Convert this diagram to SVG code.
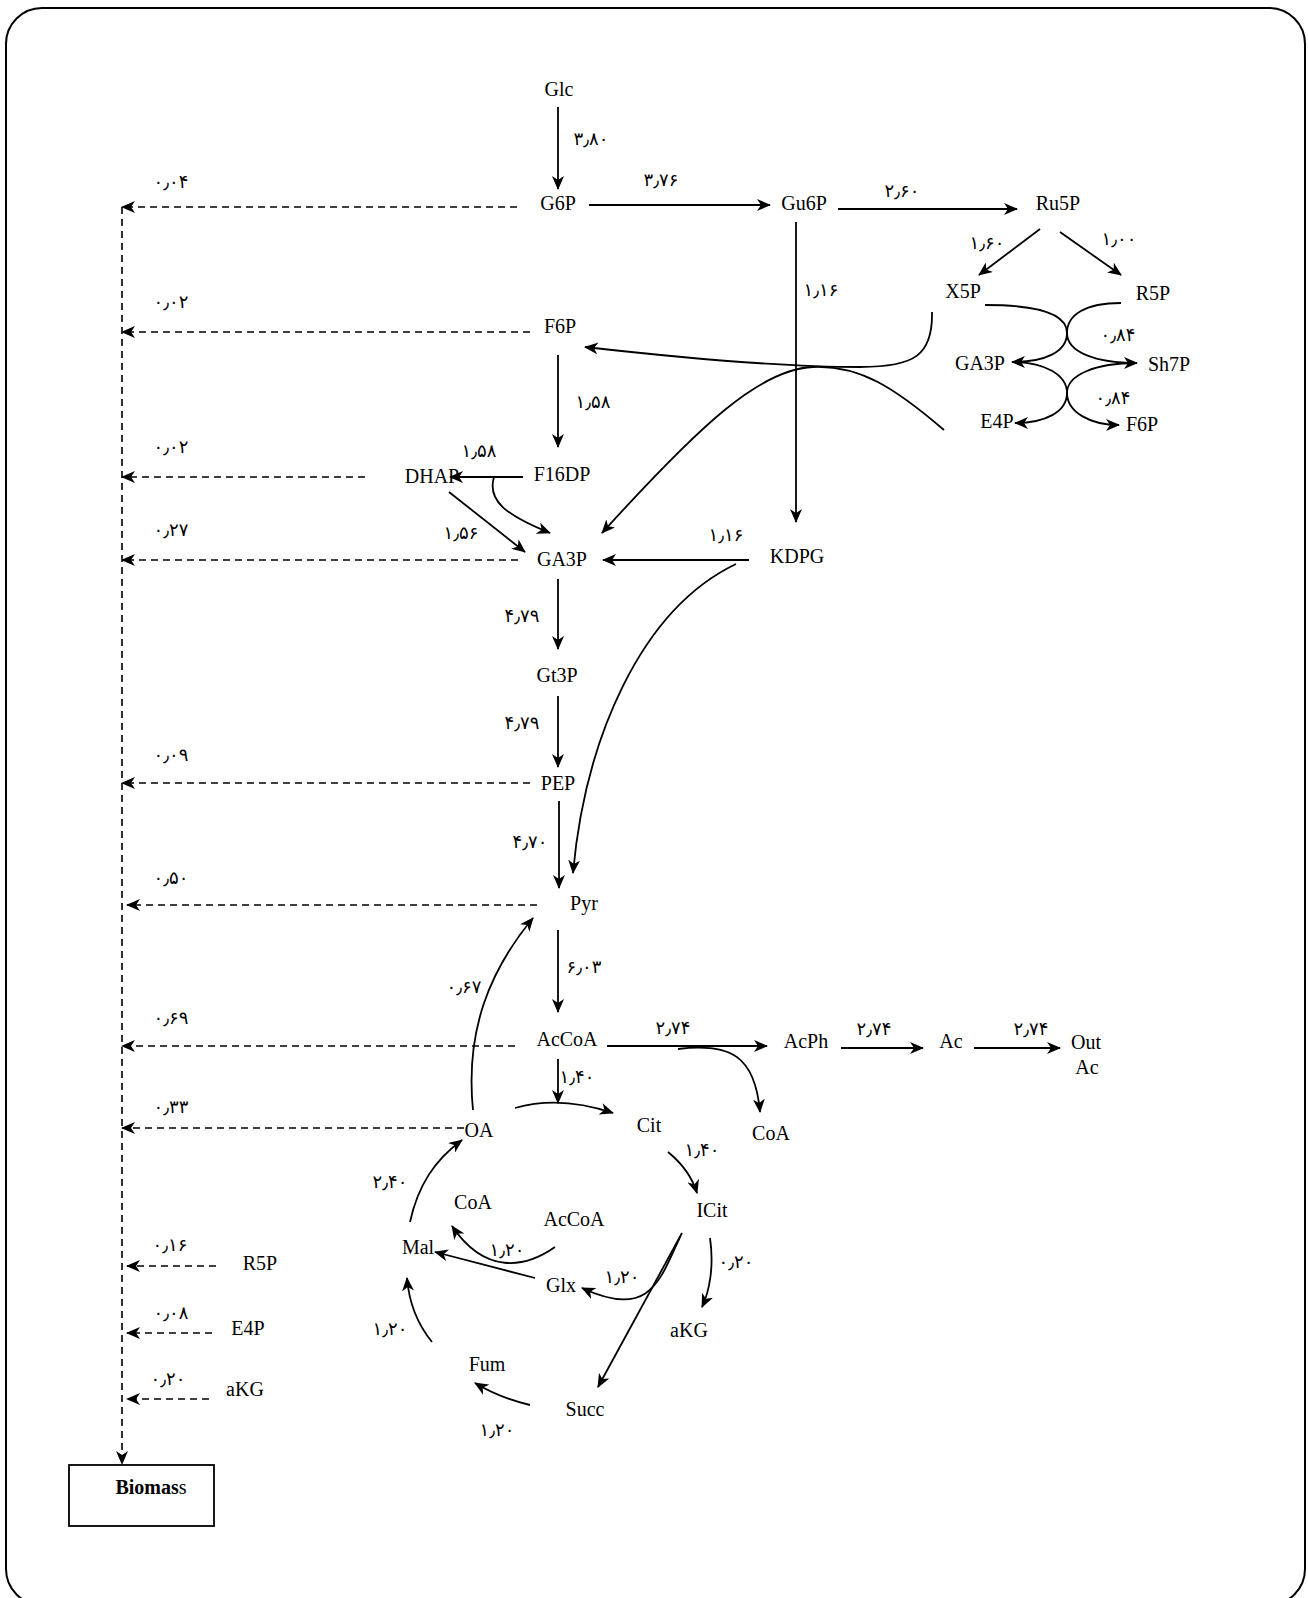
<svg xmlns="http://www.w3.org/2000/svg" width="1308" height="1598" viewBox="0 0 1308 1598">
<defs>
<marker id="ah" markerUnits="userSpaceOnUse" markerWidth="14" markerHeight="12" refX="13" refY="6" orient="auto" viewBox="0 0 14 12"><path d="M0,0 L14,6 L0,12 L4,6 z" fill="#000"/></marker>
</defs>
<style>
.n{font-family:"Liberation Serif","Times New Roman",serif;font-size:20px;fill:#000;text-anchor:middle}
.v{font-family:"DejaVu Sans",sans-serif;font-size:18px;fill:#000;text-anchor:middle}
.s{fill:none;stroke:#000;stroke-width:1.8;marker-end:url(#ah)}
.d{fill:none;stroke:#000;stroke-width:1.6;stroke-dasharray:7 5;marker-end:url(#ah)}
</style>
<rect x="6" y="8" width="1299" height="1597" rx="36" fill="#fff" stroke="#000" stroke-width="2"/>

<g id="connectors">
<path class="d" d="M122,207 L122,1464"/>
<path class="d" d="M517,207 L122,207"/>
<path class="d" d="M530,332 L122,332"/>
<path class="d" d="M365,477 L122,477"/>
<path class="d" d="M518,560 L122,560"/>
<path class="d" d="M530,783 L122,783"/>
<path class="d" d="M537,905 L127,905"/>
<path class="d" d="M515,1046 L122,1046"/>
<path class="d" d="M464,1128 L122,1128"/>
<path class="d" d="M216,1266 L127,1266"/>
<path class="d" d="M212,1333 L127,1333"/>
<path class="d" d="M209,1399 L127,1399"/>
<path class="s" d="M558,107 L558,189"/>
<path class="s" d="M589,205 L770,205"/>
<path class="s" d="M838,209 L1017,209"/>
<path class="s" d="M1040,229 L979,275"/>
<path class="s" d="M1060,232 L1121,275"/>
<path class="s" d="M796,222 L796,522"/>
<path class="s" d="M558,355 L558,447"/>
<path class="s" d="M523,477 L450,477"/>
<path class="s" d="M494,477 C487,500 505,515 550,533"/>
<path class="s" d="M449,492 L525,552"/>
<path class="s" d="M749,560 L603,560"/>
<path class="s" d="M932,312 C933,355 915,367 860,367 C800,367 700,360 585,347"/>
<path class="s" d="M944,430 C895,388 860,365 813,367 C760,369 700,425 602,533"/>
<path class="s" d="M736,564 C640,610 585,740 573,873"/>
<path class="s" d="M558,579 L558,649"/>
<path class="s" d="M558,696 L558,767"/>
<path class="s" d="M559,801 L559,888"/>
<path class="s" d="M558,930 L558,1012"/>
<path class="s" d="M473,1110 C465,1030 490,970 533,918"/>
<path class="s" d="M607,1046 L767,1046"/>
<path class="s" d="M678,1049 C730,1043 755,1055 760,1112"/>
<path class="s" d="M841,1048 L923,1048"/>
<path class="s" d="M974,1048 L1060,1048"/>
<path class="s" d="M985,305 C1040,305 1067,315 1067,333 C1067,352 1095,363 1137,363"/>
<path class="s" d="M1121,303 C1085,303 1067,315 1067,333 C1067,352 1045,362 1012,362"/>
<path class="s" d="M1012,362 C1045,362 1067,375 1067,393 C1067,412 1090,425 1119,425"/>
<path class="s" d="M1137,363 C1095,363 1067,375 1067,393 C1067,412 1045,423 1015,423"/>
<path class="s" d="M558,1059 L558,1103"/>
<path class="s" d="M515,1108 Q560,1095 613,1113"/>
<path class="s" d="M668,1152 Q690,1170 697,1193"/>
<path class="s" d="M710,1238 C714,1265 710,1290 702,1307"/>
<path class="s" d="M682,1233 L598,1387"/>
<path class="s" d="M680,1237 C660,1280 650,1320 582,1288"/>
<path class="s" d="M535,1278 L435,1252"/>
<path class="s" d="M555,1247 C525,1268 485,1275 452,1226"/>
<path class="s" d="M410,1222 C418,1185 435,1160 462,1140"/>
<path class="s" d="M432,1342 Q410,1315 407,1278"/>
<path class="s" d="M530,1405 Q500,1398 475,1383"/>
</g>

<g id="labels">
<text class="v" x="591" y="145">۳٫۸۰</text>
<text class="v" x="661" y="186">۳٫۷۶</text>
<text class="v" x="902" y="197">۲٫۶۰</text>
<text class="v" x="987" y="249">۱٫۶۰</text>
<text class="v" x="1119" y="245">۱٫۰۰</text>
<text class="v" x="821" y="296">۱٫۱۶</text>
<text class="v" x="1118" y="341">۰٫۸۴</text>
<text class="v" x="1113" y="404">۰٫۸۴</text>
<text class="v" x="171" y="188">۰٫۰۴</text>
<text class="v" x="171" y="308">۰٫۰۲</text>
<text class="v" x="593" y="408">۱٫۵۸</text>
<text class="v" x="171" y="453">۰٫۰۲</text>
<text class="v" x="479" y="457">۱٫۵۸</text>
<text class="v" x="461" y="539">۱٫۵۶</text>
<text class="v" x="171" y="536">۰٫۲۷</text>
<text class="v" x="726" y="541">۱٫۱۶</text>
<text class="v" x="522" y="622">۴٫۷۹</text>
<text class="v" x="522" y="729">۴٫۷۹</text>
<text class="v" x="171" y="761">۰٫۰۹</text>
<text class="v" x="530" y="848">۴٫۷۰</text>
<text class="v" x="171" y="884">۰٫۵۰</text>
<text class="v" x="584" y="973">۶٫۰۳</text>
<text class="v" x="464" y="993">۰٫۶۷</text>
<text class="v" x="171" y="1024">۰٫۶۹</text>
<text class="v" x="673" y="1034">۲٫۷۴</text>
<text class="v" x="874" y="1035">۲٫۷۴</text>
<text class="v" x="1031" y="1035">۲٫۷۴</text>
<text class="v" x="577" y="1083">۱٫۴۰</text>
<text class="v" x="171" y="1113">۰٫۳۳</text>
<text class="v" x="702" y="1156">۱٫۴۰</text>
<text class="v" x="390" y="1188">۲٫۴۰</text>
<text class="v" x="507" y="1256">۱٫۲۰</text>
<text class="v" x="170" y="1251">۰٫۱۶</text>
<text class="v" x="622" y="1283">۱٫۲۰</text>
<text class="v" x="736" y="1268">۰٫۲۰</text>
<text class="v" x="171" y="1319">۰٫۰۸</text>
<text class="v" x="390" y="1335">۱٫۲۰</text>
<text class="v" x="168" y="1385">۰٫۲۰</text>
<text class="v" x="497" y="1436">۱٫۲۰</text>
</g>

<g id="n-glc"><text class="n" x="559" y="96">Glc</text></g>
<g id="n-g6p"><text class="n" x="558" y="210">G6P</text></g>
<g id="n-gu6p"><text class="n" x="804" y="210">Gu6P</text></g>
<g id="n-ru5p"><text class="n" x="1058" y="210">Ru5P</text></g>
<g id="n-x5p"><text class="n" x="963" y="298">X5P</text></g>
<g id="n-r5p"><text class="n" x="1153" y="300">R5P</text></g>
<g id="n-f6p"><text class="n" x="560" y="333">F6P</text></g>
<g id="n-ga3p-ppp"><text class="n" x="980" y="370">GA3P</text></g>
<g id="n-sh7p"><text class="n" x="1169" y="371">Sh7P</text></g>
<g id="n-e4p-ppp"><text class="n" x="997" y="428">E4P</text></g>
<g id="n-f6p-ppp"><text class="n" x="1142" y="431">F6P</text></g>
<g id="n-f16dp"><text class="n" x="562" y="481">F16DP</text></g>
<g id="n-dhap"><text class="n" x="432" y="483">DHAP</text></g>
<g id="n-ga3p"><text class="n" x="562" y="566">GA3P</text></g>
<g id="n-kdpg"><text class="n" x="797" y="563">KDPG</text></g>
<g id="n-gt3p"><text class="n" x="557" y="682">Gt3P</text></g>
<g id="n-pep"><text class="n" x="558" y="790">PEP</text></g>
<g id="n-pyr"><text class="n" x="584" y="910">Pyr</text></g>
<g id="n-accoa"><text class="n" x="567" y="1046">AcCoA</text></g>
<g id="n-acph"><text class="n" x="806" y="1048">AcPh</text></g>
<g id="n-ac"><text class="n" x="951" y="1048">Ac</text></g>
<g id="n-outac"><text class="n" x="1086" y="1049">Out</text><text class="n" x="1087" y="1074">Ac</text></g>
<g id="n-cit"><text class="n" x="649" y="1132">Cit</text></g>
<g id="n-coa"><text class="n" x="771" y="1140">CoA</text></g>
<g id="n-oa"><text class="n" x="479" y="1137">OA</text></g>
<g id="n-icit"><text class="n" x="712" y="1217">ICit</text></g>
<g id="n-coa2"><text class="n" x="473" y="1209">CoA</text></g>
<g id="n-accoa2"><text class="n" x="574" y="1226">AcCoA</text></g>
<g id="n-mal"><text class="n" x="418" y="1254">Mal</text></g>
<g id="n-glx"><text class="n" x="561" y="1292">Glx</text></g>
<g id="n-akg"><text class="n" x="689" y="1337">aKG</text></g>
<g id="n-fum"><text class="n" x="487" y="1371">Fum</text></g>
<g id="n-succ"><text class="n" x="585" y="1416">Succ</text></g>
<g id="n-r5p-b"><text class="n" x="260" y="1270">R5P</text></g>
<g id="n-e4p-b"><text class="n" x="248" y="1335">E4P</text></g>
<g id="n-akg-b"><text class="n" x="245" y="1396">aKG</text></g>
<g id="n-biomass">
<rect x="69" y="1465" width="145" height="61" fill="#fff" stroke="#000" stroke-width="1.8"/>
<text class="n" x="151" y="1494"><tspan font-weight="bold">Biomas</tspan>s</text>
</g>
</svg>
